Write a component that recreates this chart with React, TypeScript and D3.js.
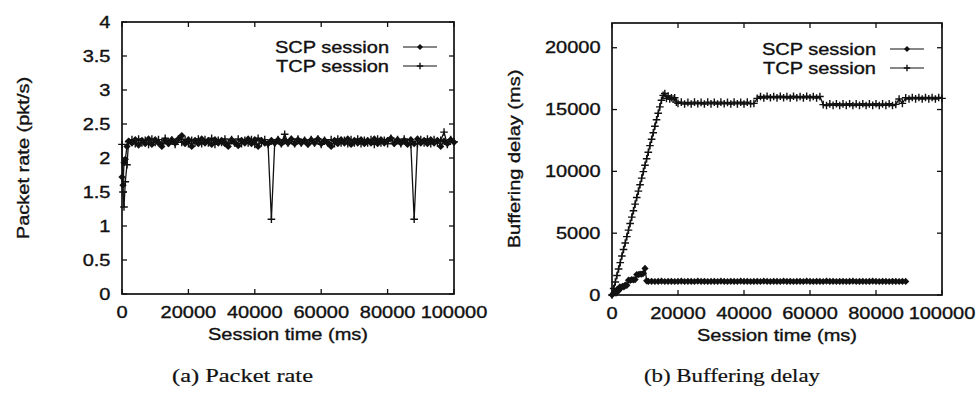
import React from "react";
import * as d3 from "d3";

// ---- data ----
const xTicks = [0, 20000, 40000, 60000, 80000, 100000];
const rateTicks = [0, 0.5, 1, 1.5, 2, 2.5, 3, 3.5, 4];
const delayTicks = [0, 5000, 10000, 15000, 20000];

// (a) packet rate, both sessions sampled on the same times
const rateTime = [
  0, 300, 600, 1000, 1500, 2000,
  3000, 4000, 5000, 6000, 7000, 8000, 9000, 10000, 11000, 12000,
  13000, 14000, 15000, 16000, 17000, 18000, 19000, 20000, 21000, 22000,
  23000, 24000, 25000, 26000, 27000, 28000, 29000, 30000, 31000, 32000,
  33000, 34000, 35000, 36000, 37000, 38000, 39000, 40000, 41000, 42000,
  43000, 44000, 45000, 46000, 47000, 48000, 49000, 50000, 51000, 52000,
  53000, 54000, 55000, 56000, 57000, 58000, 59000, 60000, 61000, 62000,
  63000, 64000, 65000, 66000, 67000, 68000, 69000, 70000, 71000, 72000,
  73000, 74000, 75000, 76000, 77000, 78000, 79000, 80000, 81000, 82000,
  83000, 84000, 85000, 86000, 87000, 88000, 89000, 90000, 91000, 92000,
  93000, 94000, 95000, 96000, 97000, 98000, 99000, 100000,
];
const rateScp = [
  1.72, 1.6, 1.93, 1.98, 2.17, 2.25,
  2.22, 2.27, 2.19, 2.26, 2.21, 2.28, 2.2, 2.27, 2.22, 2.17,
  2.26, 2.21, 2.27, 2.22, 2.28, 2.33, 2.21, 2.27, 2.17, 2.26,
  2.21, 2.28, 2.22, 2.26, 2.2, 2.27, 2.22, 2.26, 2.21, 2.17,
  2.27, 2.22, 2.18, 2.26, 2.22, 2.28, 2.21, 2.27, 2.17, 2.26,
  2.22, 2.21, 2.26, 2.22, 2.27, 2.21, 2.26, 2.22, 2.28, 2.21,
  2.27, 2.22, 2.26, 2.2, 2.27, 2.22, 2.28, 2.21, 2.26, 2.22,
  2.17, 2.26, 2.21, 2.27, 2.22, 2.28, 2.2, 2.26, 2.22, 2.27,
  2.21, 2.26, 2.22, 2.28, 2.21, 2.27, 2.22, 2.26, 2.29, 2.21,
  2.27, 2.22, 2.26, 2.2, 2.27, 2.21, 2.28, 2.22, 2.26, 2.21,
  2.27, 2.22, 2.26, 2.17, 2.25, 2.21, 2.27, 2.23,
];
const rateTcp = [
  2.2, 1.5, 1.28, 1.65, 1.9, 2.24,
  2.27, 2.21, 2.28, 2.22, 2.26, 2.2, 2.28, 2.23, 2.27, 2.21,
  2.29, 2.22, 2.26, 2.2, 2.28, 2.23, 2.27, 2.21, 2.26, 2.22,
  2.28, 2.21, 2.27, 2.22, 2.29, 2.2, 2.26, 2.23, 2.28, 2.21,
  2.27, 2.22, 2.28, 2.21, 2.26, 2.22, 2.27, 2.2, 2.29, 2.22,
  2.27, 2.2, 1.1, 2.22, 2.27, 2.21, 2.35, 2.22, 2.27, 2.21,
  2.28, 2.22, 2.26, 2.21, 2.27, 2.22, 2.28, 2.2, 2.26, 2.22,
  2.27, 2.21, 2.28, 2.22, 2.26, 2.21, 2.27, 2.22, 2.28, 2.21,
  2.26, 2.22, 2.27, 2.2, 2.28, 2.22, 2.26, 2.21, 2.29, 2.22,
  2.27, 2.21, 2.28, 2.22, 2.2, 1.1, 2.21, 2.27, 2.22, 2.28,
  2.21, 2.27, 2.22, 2.26, 2.38, 2.2, 2.27, 2.24,
];

// (b) buffering delay
const delayScpTime = [
  0, 400, 800, 1200, 1600, 2000, 2400, 2800, 3200, 3600, 4000, 4500,
  5000, 5500, 6000, 6500, 7000, 7500, 8000, 8500, 9000, 9500, 10000, 10500, 11000,
  12000, 13000, 14000, 15000, 16000, 17000, 18000, 19000, 20000, 21000,
  22000, 23000, 24000, 25000, 26000, 27000, 28000, 29000, 30000, 31000,
  32000, 33000, 34000, 35000, 36000, 37000, 38000, 39000, 40000, 41000,
  42000, 43000, 44000, 45000, 46000, 47000, 48000, 49000, 50000, 51000,
  52000, 53000, 54000, 55000, 56000, 57000, 58000, 59000, 60000, 61000,
  62000, 63000, 64000, 65000, 66000, 67000, 68000, 69000, 70000, 71000,
  72000, 73000, 74000, 75000, 76000, 77000, 78000, 79000, 80000, 81000,
  82000, 83000, 84000, 85000, 86000, 87000, 88000, 89000,
];
const delayScp = [
  0, 120, 300, 150, 450, 350, 650, 600, 700, 650, 800, 780,
  1200, 1180, 1250, 1220, 1250, 1650, 1650, 1700, 1680, 1750, 2150, 1150, 1100,
  1110, 1090, 1100, 1120, 1090, 1100, 1110, 1090, 1100, 1120,
  1090, 1110, 1100, 1090, 1120, 1100, 1110, 1090, 1100, 1110,
  1090, 1120, 1100, 1090, 1110, 1100, 1090, 1120, 1100, 1110,
  1090, 1100, 1110, 1090, 1120, 1100, 1090, 1110, 1100, 1090,
  1120, 1100, 1110, 1090, 1100, 1110, 1090, 1120, 1100, 1090,
  1110, 1100, 1090, 1120, 1100, 1110, 1090, 1100, 1110, 1090,
  1100, 1120, 1090, 1100, 1110, 1090, 1100, 1120, 1100, 1090,
  1110, 1100, 1090, 1110, 1100, 1090, 1100, 1100,
];
const delayTcpTime = [
  0, 500, 1000, 1500, 2000, 2500, 3000, 3500, 4000, 4500, 5000, 5500,
  6000, 6500, 7000, 7500, 8000, 8500, 9000, 9500, 10000, 10500, 11000, 11500,
  12000, 12500, 13000, 13500, 14000, 14500, 15000, 15500, 16000,
  16500, 17000, 17500, 18000, 18500, 19000, 19500,
  20000, 21000, 22000, 23000, 24000, 25000, 26000, 27000, 28000, 29000,
  30000, 31000, 32000, 33000, 34000, 35000, 36000, 37000, 38000, 39000,
  40000, 41000, 42000, 43000, 44000, 45000, 46000, 47000, 48000, 49000,
  50000, 51000, 52000, 53000, 54000, 55000, 56000, 57000, 58000, 59000,
  60000, 61000, 62000, 63000, 64000, 65000, 66000, 67000, 68000, 69000,
  70000, 71000, 72000, 73000, 74000, 75000, 76000, 77000, 78000, 79000,
  80000, 81000, 82000, 83000, 84000, 85000, 86000, 87000, 88000, 89000,
  90000, 91000, 92000, 93000, 94000, 95000, 96000, 97000, 98000, 99000,
  100000,
];
const delayTcp = [
  0, 520, 1050, 1580, 2100, 2620, 3150, 3680, 4200, 4720, 5250, 5780,
  6300, 6820, 7350, 7880, 8400, 8920, 9450, 9980, 10500, 11020, 11550, 12080,
  12600, 13120, 13650, 14180, 14700, 15220, 15750, 16150, 16300,
  15900, 16100, 15850, 15950, 15850, 15950, 15600,
  15500, 15600, 15450, 15580, 15450, 15600, 15470, 15580, 15450, 15600,
  15460, 15590, 15450, 15600, 15470, 15580, 15450, 15600, 15460, 15590,
  15450, 15600, 15470, 15500, 15900, 16050, 15930, 16080, 15950, 16060,
  15940, 16080, 15950, 16050, 15930, 16080, 15950, 16060, 15940, 16070,
  15950, 16060, 15930, 16050, 15400, 15330, 15460, 15340, 15470, 15330,
  15460, 15340, 15470, 15330, 15460, 15340, 15470, 15330, 15460, 15340,
  15470, 15330, 15460, 15340, 15470, 15330, 15420, 15850, 15500, 15950,
  15850, 15980, 15860, 15970, 15850, 15980, 15860, 15970, 15850, 15980,
  15900,
];

const FONT = "'Liberation Sans', Arial, Helvetica, sans-serif";
const INK = "#111";

// the reference's Helvetica is wide, so stretch the glyphs along the text
const SText = ({ x, y, anchor = "start", rotate = 0, size = 16, sx = 1.25, children }: any) => (
  <text
    transform={`translate(${x},${y})${rotate ? ` rotate(${rotate})` : ""} scale(${sx},1)`}
    textAnchor={anchor}
    fontSize={size}
    fontFamily={FONT}
    fill={INK}
    stroke={INK}
    strokeWidth={0.35}
  >
    {children}
  </text>
);

const Diamond = ({ cx, cy, r = 3.6 }: any) => (
  <path d={`M${cx},${cy - r}L${cx + r},${cy}L${cx},${cy + r}L${cx - r},${cy}Z`} fill={INK} />
);
const Plus = ({ cx, cy, r = 3.8 }: any) => (
  <path d={`M${cx - r},${cy}H${cx + r}M${cx},${cy - r}V${cy + r}`} stroke={INK} strokeWidth={1.4} />
);

const Panel = ({ box, yMax, yTicks, yLabel, yLabelX, scp, tcp, legendX, legendY }: any) => {
  const x = d3.scaleLinear().domain([0, 100000]).range([box.left, box.right]);
  const y = d3.scaleLinear().domain([0, yMax]).range([box.bottom, box.top]);
  const line = d3.line<[number, number]>().x((d) => x(d[0])).y((d) => y(d[1]));
  const scpPts: [number, number][] = scp.t.map((t: number, i: number) => [t, scp.v[i]]);
  const tcpPts: [number, number][] = tcp.t.map((t: number, i: number) => [t, tcp.v[i]]);
  const tl = 5;
  const midX = (box.left + box.right) / 2;
  const midY = (box.top + box.bottom) / 2;
  return (
    <g>
      {/* data */}
      <path d={line(tcpPts) || ""} fill="none" stroke={INK} strokeWidth={1.3} />
      <path d={line(scpPts) || ""} fill="none" stroke={INK} strokeWidth={1.3} />
      {tcpPts.map((p, i) => (
        <Plus key={"t" + i} cx={x(p[0])} cy={y(p[1])} />
      ))}
      {scpPts.map((p, i) => (
        <Diamond key={"s" + i} cx={x(p[0])} cy={y(p[1])} />
      ))}

      {/* frame and mirrored ticks */}
      <rect x={box.left} y={box.top} width={box.right - box.left} height={box.bottom - box.top}
        fill="none" stroke={INK} strokeWidth={1.7} />
      {xTicks.map((t) => (
        <g key={"x" + t}>
          <line x1={x(t)} x2={x(t)} y1={box.bottom} y2={box.bottom - tl} stroke={INK} strokeWidth={1.3} />
          <line x1={x(t)} x2={x(t)} y1={box.top} y2={box.top + tl} stroke={INK} strokeWidth={1.3} />
          <SText x={x(t)} y={box.bottom + 24} anchor="middle">{String(t)}</SText>
        </g>
      ))}
      {yTicks.map((t: number) => (
        <g key={"y" + t}>
          <line x1={box.left} x2={box.left + tl} y1={y(t)} y2={y(t)} stroke={INK} strokeWidth={1.3} />
          <line x1={box.right} x2={box.right - tl} y1={y(t)} y2={y(t)} stroke={INK} strokeWidth={1.3} />
          <SText x={box.left - 11.5} y={y(t) + 5.5} anchor="end">{String(t)}</SText>
        </g>
      ))}

      {/* axis titles */}
      <SText x={midX} y={box.bottom + 46} anchor="middle">Session time (ms)</SText>
      <SText x={yLabelX} y={midY} anchor="middle" rotate={-90}>{yLabel}</SText>

      {/* legend */}
      {[
        { name: "SCP session", dy: 0, mark: "d" },
        { name: "TCP session", dy: 19, mark: "p" },
      ].map((e) => (
        <g key={e.name}>
          <SText x={legendX} y={legendY + e.dy + 5.5} anchor="end">{e.name}</SText>
          <line x1={legendX + 14} x2={legendX + 48} y1={legendY + e.dy} y2={legendY + e.dy} stroke={INK} strokeWidth={1.2} />
          {e.mark === "d" ? (
            <Diamond cx={legendX + 31} cy={legendY + e.dy} r={3} />
          ) : (
            <Plus cx={legendX + 31} cy={legendY + e.dy} r={3.2} />
          )}
        </g>
      ))}
    </g>
  );
};

export default function App() {
  return (
    <svg width={978} height={407} style={{ position: "absolute", left: 0, top: 0, background: "#fff" }}>
      <rect width={978} height={407} fill="#fff" />
      <Panel
        box={{ left: 122, right: 454, top: 22, bottom: 294 }}
        yMax={4}
        yTicks={rateTicks}
        yLabel="Packet rate (pkt/s)"
        yLabelX={29}
        scp={{ t: rateTime, v: rateScp }}
        tcp={{ t: rateTime, v: rateTcp }}
        legendX={389}
        legendY={47}
      />
      <Panel
        box={{ left: 612, right: 942, top: 23, bottom: 295 }}
        yMax={22000}
        yTicks={delayTicks}
        yLabel="Buffering delay (ms)"
        yLabelX={520}
        scp={{ t: delayScpTime, v: delayScp }}
        tcp={{ t: delayTcpTime, v: delayTcp }}
        legendX={876}
        legendY={49}
      />
      <text x={172} y={382} fontSize={19} fontFamily="'Liberation Serif', 'Times New Roman', serif"
        textLength={141} lengthAdjust="spacingAndGlyphs" fill={INK} stroke={INK} strokeWidth={0.2}>(a) Packet rate</text>
      <text x={644} y={382} fontSize={19} fontFamily="'Liberation Serif', 'Times New Roman', serif"
        textLength={176} lengthAdjust="spacingAndGlyphs" fill={INK} stroke={INK} strokeWidth={0.2}>(b) Buffering delay</text>
    </svg>
  );
}
